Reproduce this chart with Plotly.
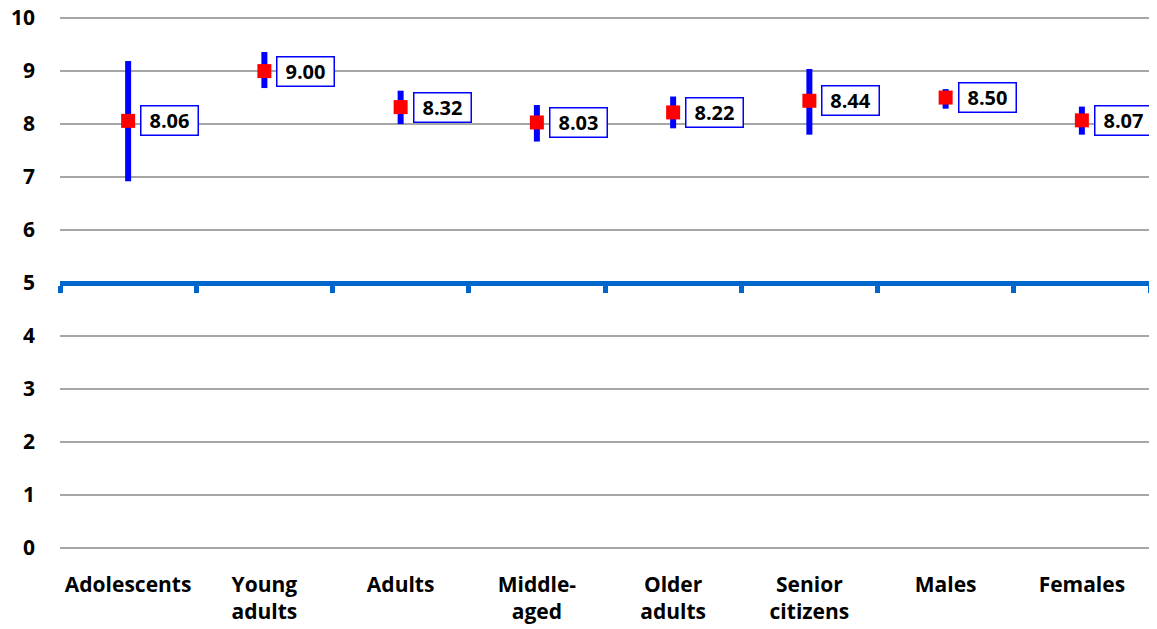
import plotly.graph_objects as go

# Chart data.
groups = ["Adolescents", "Young<br>adults", "Adults", "Middle-<br>aged",
          "Older<br>adults", "Senior<br>citizens", "Males", "Females"]
means = [8.06, 9.00, 8.32, 8.03, 8.22, 8.44, 8.50, 8.07]
upper = [9.19, 9.36, 8.63, 8.36, 8.52, 9.04, 8.66, 8.33]
lower = [6.92, 8.68, 8.00, 7.67, 7.92, 7.80, 8.29, 7.80]
y_ticks = list(range(0, 11))
midpoint = 5

font = "Open Sans"
blue = "#0000FF"
axis_blue = "#0066CC"

err_plus = [u - m for u, m in zip(upper, means)]
err_minus = [m - l for m, l in zip(means, lower)]

fig = go.Figure()

# Means with confidence interval bars.
fig.add_trace(go.Scatter(
    x=groups, y=means, mode="markers",
    marker=dict(symbol="square", size=14, color="#FF0000"),
    error_y=dict(type="data", symmetric=False, array=err_plus,
                 arrayminus=err_minus, color=blue, thickness=6, width=0),
    showlegend=False, hoverinfo="x+y",
))

# Invisible trace so the second category axis (drawn at the midpoint) renders.
fig.add_trace(go.Scatter(x=groups, y=[None] * len(groups), xaxis="x2",
                         mode="markers", showlegend=False, hoverinfo="skip"))

# Boxed value labels to the right of each point.
for g, m in zip(groups, means):
    fig.add_annotation(
        x=g, y=m, text=f"<b>{m:.2f}</b>", showarrow=False,
        xanchor="left", yanchor="middle", xshift=12,
        width=54, height=26, align="center", valign="middle",
        font=dict(family=font, size=20, color="black"),
        bgcolor="white", bordercolor=blue, borderwidth=1.5, borderpad=1,
    )

# The page puts the figure 8px in from the top-left corner, so the figure
# is 8px smaller and the margins are trimmed to keep the plot in place.
# A small pad on the y range keeps the gridlines at 0 and 10 from being
# clipped at the plot edges.
pad = 0.04
fig.update_layout(
    width=1149, height=621,
    margin=dict(l=52, r=7, t=8, b=79),
    plot_bgcolor="white", paper_bgcolor="white",
    font=dict(family=font, size=18, color="black"),
    xaxis=dict(
        type="category", range=[-0.5, len(groups) - 0.5], automargin=False,
        tickvals=groups, ticktext=[f"<b>{g}</b>" for g in groups],
        showgrid=False, showline=False, zeroline=False, ticks="",
        tickfont=dict(family=font, size=21, color="black"),
        ticklabelstandoff=20,
    ),
    xaxis2=dict(
        type="category", overlaying="x", anchor="free", automargin=False,
        position=0.5,
        range=[-0.5, len(groups) - 0.5],
        showline=True, linecolor=axis_blue, linewidth=5,
        ticks="outside", tickson="boundaries", tickcolor=axis_blue,
        ticklen=7, tickwidth=5, showticklabels=False, showgrid=False,
    ),
    yaxis=dict(
        range=[min(y_ticks) - pad, max(y_ticks) + pad], automargin=False,
        tickvals=y_ticks, ticktext=[f"<b>{t}</b>" for t in y_ticks],
        showgrid=True, gridcolor="#A6A6A6", gridwidth=1.5,
        zeroline=False, showline=False, ticks="",
        tickfont=dict(family=font, size=21, color="black"),
        ticklabelstandoff=24, ticklabeloverflow="allow",
    ),
)

fig.write_html("out.html")
